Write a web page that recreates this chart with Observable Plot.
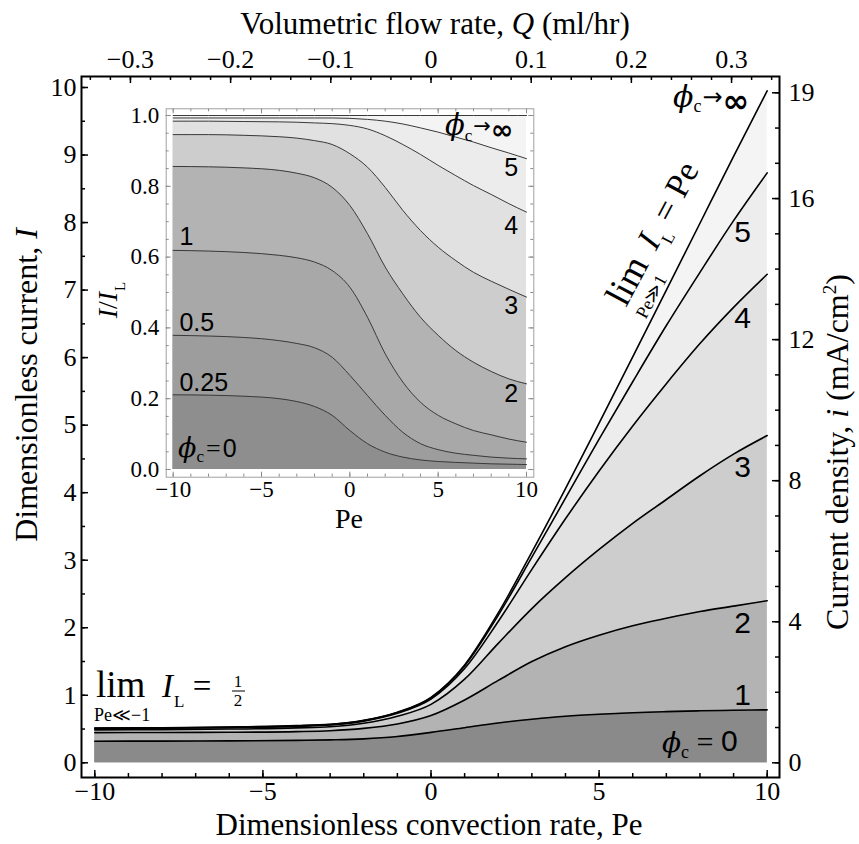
<!DOCTYPE html>
<html>
<head>
<meta charset="utf-8">
<script src="https://cdn.jsdelivr.net/npm/d3@7"></script>
<script src="https://cdn.jsdelivr.net/npm/@observablehq/plot@0.6"></script>
<style>
  html, body { margin: 0; padding: 0; background: #fff; }
  #figure { position: relative; width: 859px; height: 844px; overflow: hidden; }
  #figure > svg { position: absolute; left: 0; top: 0; }
</style>
</head>
<body>
<div id="figure"></div>
<script>
// ---------------------------------------------------------------------------
// Data
// ---------------------------------------------------------------------------
// Péclet number grid shared by every curve
const pe = [-10, -8, -6, -4, -3, -2, -1, 0, 1, 2, 3, 4, 5, 6, 7, 8, 9, 10];

// Main panel: dimensionless current I for each value of phi_c
const currentPhi1 = [0.32, 0.321, 0.324, 0.332, 0.34, 0.355, 0.39, 0.45, 0.52, 0.59, 0.645, 0.69, 0.72, 0.742, 0.758, 0.77, 0.778, 0.784];
const currentPhi2 = [0.447, 0.449, 0.452, 0.462, 0.475, 0.51, 0.575, 0.70, 0.93, 1.22, 1.50, 1.72, 1.89, 2.03, 2.14, 2.24, 2.32, 2.40];
const currentPhi3 = [0.487, 0.492, 0.500, 0.517, 0.534, 0.585, 0.689, 0.865, 1.238, 1.769, 2.284, 2.741, 3.159, 3.546, 3.899, 4.251, 4.571, 4.846];
const currentPhi4 = [0.507, 0.512, 0.521, 0.540, 0.559, 0.617, 0.733, 0.943, 1.395, 2.093, 2.864, 3.613, 4.321, 4.988, 5.614, 6.208, 6.744, 7.234];
const currentPhi5 = [0.511, 0.516, 0.526, 0.546, 0.566, 0.625, 0.744, 0.962, 1.434, 2.184, 3.045, 3.918, 4.794, 5.643, 6.475, 7.263, 8.028, 8.736];
const currentLimit = [0.515, 0.52, 0.53, 0.55, 0.57, 0.63, 0.75, 0.97, 1.45, 2.22, 3.12, 4.06, 5.03, 6.01, 7.0, 7.99, 8.98, 9.95];

// Inset: current normalised by the limiting current, I / I_L
const ratioPhi025 = [0.211, 0.210, 0.207, 0.200, 0.192, 0.178, 0.153, 0.110, 0.073, 0.049, 0.035, 0.027, 0.0226, 0.020, 0.018, 0.016, 0.015, 0.014];
const ratioPhi05 = [0.379, 0.377, 0.373, 0.364, 0.356, 0.344, 0.317, 0.266, 0.209, 0.153, 0.105, 0.073, 0.056, 0.046, 0.040, 0.035, 0.032, 0.030];
const ratioPhi1 = [0.619, 0.617, 0.613, 0.605, 0.598, 0.586, 0.562, 0.515, 0.430, 0.327, 0.247, 0.190, 0.153, 0.129, 0.110, 0.098, 0.086, 0.077];
const ratioPhi2 = [0.856, 0.855, 0.852, 0.845, 0.837, 0.824, 0.797, 0.746, 0.666, 0.572, 0.496, 0.430, 0.379, 0.336, 0.303, 0.277, 0.256, 0.242];
const ratioPhi3 = [0.946, 0.946, 0.944, 0.940, 0.936, 0.929, 0.918, 0.892, 0.854, 0.797, 0.732, 0.675, 0.628, 0.590, 0.557, 0.532, 0.509, 0.487];
const ratioPhi4 = [0.984, 0.984, 0.983, 0.982, 0.981, 0.979, 0.977, 0.972, 0.962, 0.943, 0.918, 0.890, 0.859, 0.830, 0.802, 0.777, 0.751, 0.727];
const ratioPhi5 = [0.993, 0.993, 0.993, 0.993, 0.993, 0.993, 0.993, 0.992, 0.989, 0.984, 0.976, 0.965, 0.953, 0.939, 0.925, 0.909, 0.894, 0.878];
const ratioLimit = [1, 1, 1, 1, 1, 1, 1, 1, 1, 1, 1, 1, 1, 1, 1, 1, 1, 1];

// Contour labels
const mainBandLabels = ["1", "2", "3", "4", "5"];
const insetRightLabels = ["2", "3", "4", "5"];
const insetLeftLabels = ["1", "0.5", "0.25"];

// Tick labels
const peTicks = [-10, -5, 0, 5, 10];
const currentTicks = [0, 1, 2, 3, 4, 5, 6, 7, 8, 9, 10];
const flowTicks = [-0.3, -0.2, -0.1, 0, 0.1, 0.2, 0.3];          // ml/hr
const densityTicks = [0, 4, 8, 12, 16, 19];                     // mA/cm^2
const ratioTicks = [0, 0.2, 0.4, 0.6, 0.8, 1.0];

// Unit conversions for the secondary axes
const PE_PER_FLOW = 29.8;      // Pe per ml/hr
const I_PER_DENSITY = 0.5222;  // dimensionless current per mA/cm^2

// ---------------------------------------------------------------------------
// Styling helpers
// ---------------------------------------------------------------------------
const SERIF = "'Liberation Serif', 'Times New Roman', serif";
const SANS = "'Liberation Sans', Arial, sans-serif";
const PHI = "'DejaVu Serif', serif";
const SYM = "'DejaVu Sans', sans-serif";

const series = (values) => pe.map((p, i) => ({pe: p, v: values[i]}));

// Filled contour bands: paint from the top level down so bands never leave seams
function bands(levels, fills) {
  const out = [];
  for (let k = levels.length - 1; k >= 0; --k) {
    out.push(Plot.areaY(series(levels[k]), {x: "pe", y: "v", fill: fills[k], curve: "monotone-x"}));
  }
  return out;
}
function contourLines(levels, stroke, strokeWidth) {
  return levels.map((lv) => Plot.lineY(series(lv), {x: "pe", y: "v", stroke, strokeWidth, curve: "monotone-x"}));
}

// Text with mixed styles (italics, subscripts) built from tspans
function richText(sel, x, y, parts, {anchor = "start", rotate = 0, family = SERIF, size = 30} = {}) {
  const t = sel.append("text")
    .attr("transform", `translate(${x},${y})` + (rotate ? ` rotate(${rotate})` : ""))
    .attr("text-anchor", anchor)
    .attr("font-family", family)
    .attr("font-size", size)
    .attr("fill", "black");
  for (const p of parts) {
    const s = t.append("tspan").text(p.t);
    if (p.family) s.attr("font-family", p.family);
    if (p.size) s.attr("font-size", p.size);
    if (p.italic) s.attr("font-style", "italic");
    if (p.weight) s.attr("font-weight", p.weight);
    if (p.dx) s.attr("dx", p.dx);
    if (p.dy) s.attr("dy", p.dy);
  }
  return t;
}

// Tick labels are set in the serif face, like the titles
function serifTickLabels(svg) {
  d3.select(svg).selectAll('g[aria-label$="tick label"]')
    .attr("font-family", SERIF)
    .style("font-family", SERIF);
}

// ---------------------------------------------------------------------------
// Main panel
// ---------------------------------------------------------------------------
const W = 859, H = 844;
const M = {left: 81, right: 80, top: 76, bottom: 67};
const frameW = W - M.left - M.right, frameH = H - M.top - M.bottom;
const majorLen = 7, minorLen = 4;

const mainLevels = [currentPhi1, currentPhi2, currentPhi3, currentPhi4, currentPhi5, currentLimit];
const mainFills = ["#8a8a8a", "#b3b3b3", "#cdcdcd", "#e2e2e2", "#ededed", "#f4f4f4"];

const peMinor = d3.range(-10, 11, 1);
const currentMinor = d3.range(0, 10.01, 0.5);
const flowMinor = d3.range(-34, 35, 2).map((v) => (v / 100) * PE_PER_FLOW);
const densityMinor = d3.range(0, 20, 1).map((v) => v * I_PER_DENSITY);
const isMajorFlow = (q) => Math.abs(Math.round(q / PE_PER_FLOW * 100)) % 10 === 0;
const isMajorDensity = (d) => densityTicks.includes(Math.round(d / I_PER_DENSITY));

const tickStyle = {stroke: "black", strokeWidth: 1.5};
const axisFont = {fontFamily: SERIF, fontSize: 26, label: null, tickSize: 0};
const mainLabelPlacement = {pe: 9.27, i: [0.996, 2.07, 4.37, 6.58, 7.86]};

const main = Plot.plot({
  width: W, height: H,
  marginLeft: M.left, marginRight: M.right, marginTop: M.top, marginBottom: M.bottom,
  x: {domain: [-10, 10], range: [94.3, 766.7]},
  y: {domain: [0, 10], range: [762.3, 87]},
  style: {fontFamily: SERIF, fontSize: "26px", color: "black", background: "white"},
  marks: [
    ...bands(mainLevels, mainFills),
    ...contourLines(mainLevels, "black", 1.6),
    Plot.text(mainBandLabels, {
      x: () => mainLabelPlacement.pe, y: (d, i) => mainLabelPlacement.i[i], text: (d) => d,
      fontFamily: SANS, fontSize: 30, textAnchor: "middle"
    }),
    // inward ticks on all four sides
    Plot.ruleX(peMinor, {x: (d) => d, insetTop: frameH - minorLen, ...tickStyle}),
    Plot.ruleX(peTicks, {x: (d) => d, insetTop: frameH - majorLen, ...tickStyle}),
    Plot.ruleX(flowMinor, {x: (d) => d, insetBottom: frameH - minorLen, ...tickStyle}),
    Plot.ruleX(flowMinor.filter(isMajorFlow), {x: (d) => d, insetBottom: frameH - majorLen, ...tickStyle}),
    Plot.ruleY(currentMinor, {y: (d) => d, insetRight: frameW - minorLen, ...tickStyle}),
    Plot.ruleY(currentTicks, {y: (d) => d, insetRight: frameW - majorLen, ...tickStyle}),
    Plot.ruleY(densityMinor, {y: (d) => d, insetLeft: frameW - minorLen, ...tickStyle}),
    Plot.ruleY(densityMinor.filter(isMajorDensity), {y: (d) => d, insetLeft: frameW - majorLen, ...tickStyle}),
    // tick labels
    Plot.axisX({anchor: "bottom", ticks: peTicks, tickPadding: 4, ...axisFont}),
    Plot.axisX({
      anchor: "top", ticks: flowTicks.map((q) => q * PE_PER_FLOW), tickPadding: 9, ...axisFont,
      tickFormat: (d) => {
        const q = Math.round(d / PE_PER_FLOW * 10) / 10;
        return q === 0 ? "0" : d3.format(".1f")(q);
      }
    }),
    Plot.axisY({anchor: "left", ticks: currentTicks, tickPadding: 5, ...axisFont}),
    Plot.axisY({
      anchor: "right", ticks: densityTicks.map((d) => d * I_PER_DENSITY), tickPadding: 9, ...axisFont,
      tickFormat: (d) => String(Math.round(d / I_PER_DENSITY))
    }),
    Plot.frame({stroke: "black", strokeWidth: 2})
  ]
});
serifTickLabels(main);

const msel = d3.select(main);

// axis titles
richText(msel, 435, 34, [{t: "Volumetric flow rate, "}, {t: "Q", italic: true}, {t: " (ml/hr)"}], {anchor: "middle", size: 31});
richText(msel, 429, 835, [{t: "Dimensionless convection rate, Pe"}], {anchor: "middle", size: 31});
richText(msel, 37, 385, [{t: "Dimensionless current, "}, {t: "I", italic: true}], {anchor: "middle", rotate: -90, size: 32});
richText(msel, 848, 452, [
  {t: "Current density, "}, {t: "i", italic: true}, {t: " (mA/cm"},
  {t: "2", size: 19, dy: -12}, {t: ")", dy: 12}
], {anchor: "middle", rotate: -90, size: 32});

// phi_c labels in the main panel
richText(msel, 673, 107, [
  {t: "ϕ", family: PHI, italic: true, size: 30},
  {t: "c", size: 18, dy: 5},
  {t: "→", family: SYM, size: 24, dy: -7, dx: 1},
  {t: "∞", family: SYM, weight: "bold", size: 32, dy: 7}
]);
richText(msel, 662, 752, [
  {t: "ϕ", family: PHI, italic: true, size: 28},
  {t: "c", size: 18, dy: 6},
  {t: " = ", size: 30, dy: -6},
  {t: "0", family: SANS, size: 30, dy: -1}
]);

// asymptote for strong backward flow
richText(msel, 96, 697, [{t: "lim"}], {size: 37});
richText(msel, 94, 721, [{t: "Pe≪−1"}], {size: 18});
richText(msel, 162, 697, [
  {t: "I", italic: true}, {t: "L", size: 17, dy: 10, dx: 1}, {t: " =", dy: -10}
], {size: 33});
richText(msel, 238, 687, [{t: "1"}], {anchor: "middle", size: 17});
richText(msel, 238, 706, [{t: "2"}], {anchor: "middle", size: 17});
msel.append("line").attr("x1", 232).attr("x2", 245).attr("y1", 691).attr("y2", 691)
  .attr("stroke", "black").attr("stroke-width", 1);

// asymptote for strong forward flow, written along the limiting curve
const g = msel.append("g").attr("transform", "translate(626,308) rotate(-62)");
richText(g, 0, 0, [{t: "lim"}], {size: 37});
richText(g, -1, 23, [{t: "Pe≫1"}], {size: 18});
richText(g, 64, 0, [
  {t: "I", italic: true}, {t: "L", size: 17, dy: 10, dx: 1}, {t: " = Pe", dy: -10}
], {size: 34});

// ---------------------------------------------------------------------------
// Inset: normalised current
// ---------------------------------------------------------------------------
const IW = 440, IH = 445, OX = 100, OY = 95;
const IM = {left: 65.7, right: 6.7, top: 13.3, bottom: IH - 381.7};
const iFrameW = IW - IM.left - IM.right, iFrameH = IH - IM.top - IM.bottom;
const insetLevels = [ratioPhi025, ratioPhi05, ratioPhi1, ratioPhi2, ratioPhi3, ratioPhi4, ratioPhi5, ratioLimit];
const insetFills = ["#8e8e8e", "#9d9d9d", "#a8a8a8", "#b3b3b3", "#cdcdcd", "#e1e1e1", "#ececec", "#f4f4f4"];
const iTick = {stroke: "#8a8a8a", strokeWidth: 1};
const ratioMinor = d3.range(0, 1.001, 0.05);
const insetRightPlacement = {pe: 9.13, r: [0.213, 0.463, 0.688, 0.853]};
const insetLeftPlacement = {pe: -9.65, r: [0.657, 0.414, 0.244]};
const insetAxisFont = {fontFamily: SERIF, fontSize: 23, label: null, tickSize: 0};

const inset = Plot.plot({
  width: IW, height: IH,
  marginLeft: IM.left, marginRight: IM.right, marginTop: IM.top, marginBottom: IM.bottom,
  x: {domain: [-10, 10], range: [72.7, 426]},
  y: {domain: [0, 1], range: [374, 20]},
  style: {fontFamily: SERIF, fontSize: "23px", color: "black", background: "transparent", overflow: "visible"},
  marks: [
    Plot.frame({fill: "white"}),
    ...bands(insetLevels, insetFills),
    ...contourLines(insetLevels, "#3a3a3a", 1),
    Plot.text(insetRightLabels, {
      x: () => insetRightPlacement.pe, y: (d, i) => insetRightPlacement.r[i], text: (d) => d,
      fontFamily: SANS, fontSize: 25, textAnchor: "middle"
    }),
    Plot.text(insetLeftLabels, {
      x: () => insetLeftPlacement.pe, y: (d, i) => insetLeftPlacement.r[i], text: (d) => d,
      fontFamily: SANS, fontSize: 25, textAnchor: "start"
    }),
    Plot.ruleX(peMinor, {x: (d) => d, insetTop: iFrameH - 3, ...iTick}),
    Plot.ruleX(peTicks, {x: (d) => d, insetTop: iFrameH - 5, ...iTick}),
    Plot.ruleX(peMinor, {x: (d) => d, insetBottom: iFrameH - 3, ...iTick}),
    Plot.ruleX(peTicks, {x: (d) => d, insetBottom: iFrameH - 5, ...iTick}),
    Plot.ruleY(ratioMinor, {y: (d) => d, insetRight: iFrameW - 3, ...iTick}),
    Plot.ruleY(ratioTicks, {y: (d) => d, insetRight: iFrameW - 5, ...iTick}),
    Plot.ruleY(ratioMinor, {y: (d) => d, insetLeft: iFrameW - 3, ...iTick}),
    Plot.ruleY(ratioTicks, {y: (d) => d, insetLeft: iFrameW - 5, ...iTick}),
    Plot.axisX({anchor: "bottom", ticks: peTicks, tickPadding: 3, ...insetAxisFont}),
    Plot.axisY({anchor: "left", ticks: ratioTicks, tickPadding: 7, ...insetAxisFont, tickFormat: d3.format(".1f")}),
    Plot.frame({stroke: "#a0a0a0", strokeWidth: 1})
  ]
});
serifTickLabels(inset);
inset.style.left = OX + "px";
inset.style.top = OY + "px";

const isel = d3.select(inset);
richText(isel, 249, 433, [{t: "Pe"}], {anchor: "middle", size: 28});
richText(isel, 17, 205, [
  {t: "I", italic: true}, {t: "/"}, {t: "I", italic: true}, {t: "L", size: 15, dy: 8, dx: 1}
], {anchor: "middle", rotate: -90, size: 28});
richText(isel, 345, 40, [
  {t: "ϕ", family: PHI, italic: true, size: 29},
  {t: "c", size: 17, dy: 6},
  {t: "→", family: SYM, size: 21, dy: -8, dx: 1},
  {t: "∞", family: SYM, weight: "bold", size: 27, dy: 6}
]);
richText(isel, 78, 362, [
  {t: "ϕ", family: PHI, italic: true, size: 27},
  {t: "c", size: 17, dy: 5},
  {t: "=", size: 26, dy: -5, dx: 2},
  {t: "0", family: SANS, size: 25, dx: 2}
]);

const fig = document.getElementById("figure");
fig.appendChild(main);
fig.appendChild(inset);
</script>
</body>
</html>
